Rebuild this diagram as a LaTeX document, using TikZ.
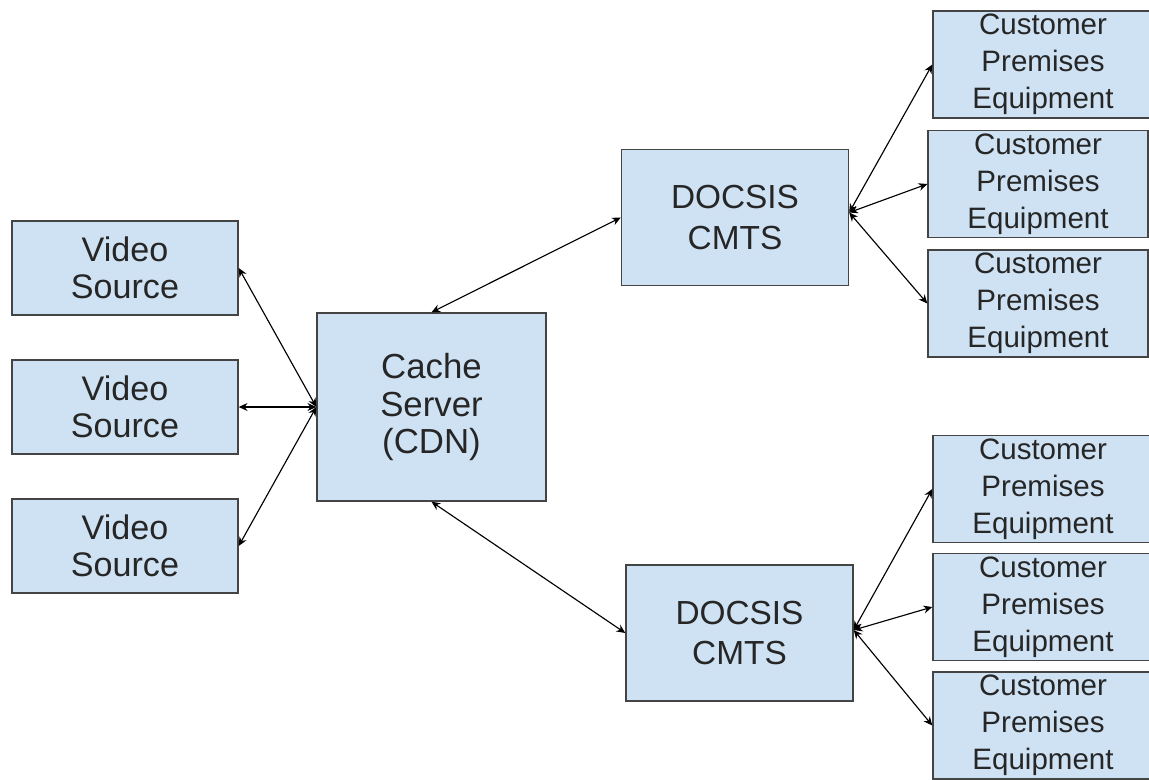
\documentclass[tikz,border=0pt]{standalone}
\usepackage{fontspec}
\setmainfont{Liberation Sans}
\usetikzlibrary{arrows.meta}
\definecolor{boxblue}{HTML}{CFE2F3}
\definecolor{boxline}{HTML}{444444}
\definecolor{textgray}{HTML}{262626}
\tikzstyle{source} = [rectangle, minimum width=4.52cm, minimum height=1.88cm, text centered, align=center, inner sep=0pt, draw=boxline, line width=0.8pt, fill=boxblue, text=textgray, font=\fontsize{19.4}{21}\selectfont]
\tikzstyle{server} = [rectangle, minimum width=4.58cm, minimum height=3.76cm, text centered, align=center, inner sep=0pt, draw=boxline, line width=0.8pt, fill=boxblue, text=textgray, font=\fontsize{19.8}{21.6}\selectfont]
\tikzstyle{cmts} = [rectangle, minimum width=4.54cm, minimum height=2.72cm, text centered, align=center, inner sep=0pt, draw=boxline, line width=0.8pt, fill=boxblue, text=textgray, font=\fontsize{19}{23}\selectfont]
\tikzstyle{cpe} = [rectangle, minimum width=4.4cm, minimum height=2.14cm, text centered, align=center, inner sep=0pt, draw=boxline, line width=0.8pt, fill=boxblue, text=textgray, font=\fontsize{16.8}{21}\selectfont]
\tikzstyle{arrow} = [line width=0.65pt, {Stealth[length=5pt,width=4.5pt]}-{Stealth[length=5pt,width=4.5pt]}]

\begin{document}
\begin{tikzpicture}[node distance=2.78cm]

    \path[use as bounding box, fill=white] (0,0) rectangle (22.98,-15.58);

    % Nodes
    \node (cache) [server] at (8.63,-8.14) {Cache\\Server\\(CDN)};
    \node (vs2) [source, left of=cache, xshift=-3.35cm] {Video\\Source};
    \node (vs1) [source, above of=vs2] {Video\\Source};
    \node (vs3) [source, below of=vs2] {Video\\Source};
    \node (cmtsup) [cmts, right of=cache, xshift=3.29cm, yshift=3.79cm] {DOCSIS\\CMTS};
    \node (cmtsdown) [cmts, right of=cache, xshift=3.38cm, yshift=-4.52cm] {DOCSIS\\CMTS};
    \node (cpe2) [cpe, right of=cmtsup, xshift=3.28cm, yshift=0.67cm] {Customer\\Premises\\Equipment};
    \node (cpe1) [cpe, above of=cpe2, xshift=0.1cm, yshift=-0.39cm] {Customer\\Premises\\Equipment};
    \node (cpe3) [cpe, below of=cpe2, yshift=0.39cm] {Customer\\Premises\\Equipment};
    \node (cpe5) [cpe, right of=cmtsdown, xshift=3.29cm, yshift=0.52cm] {Customer\\Premises\\Equipment};
    \node (cpe4) [cpe, above of=cpe5, yshift=-0.42cm] {Customer\\Premises\\Equipment};
    \node (cpe6) [cpe, below of=cpe5, yshift=0.41cm] {Customer\\Premises\\Equipment};

    % Arrows
    \draw [arrow] (vs1.east) -- (cache.west);
    \draw [arrow] (vs2.east) -- (cache.west);
    \draw [arrow] (vs3.east) -- (cache.west);
    \draw [arrow] (cache.north) -- (cmtsup.west);
    \draw [arrow] (cache.south) -- (cmtsdown.west);
    \draw [arrow] ([yshift=0.1cm]cmtsup.east) -- (cpe1.west);
    \draw [arrow] ([yshift=0.1cm]cmtsup.east) -- (cpe2.west);
    \draw [arrow] ([yshift=0.1cm]cmtsup.east) -- (cpe3.west);
    \draw [arrow] ([yshift=0.06cm]cmtsdown.east) -- (cpe4.west);
    \draw [arrow] ([yshift=0.06cm]cmtsdown.east) -- (cpe5.west);
    \draw [arrow] ([yshift=0.06cm]cmtsdown.east) -- (cpe6.west);
\end{tikzpicture}
\end{document}
